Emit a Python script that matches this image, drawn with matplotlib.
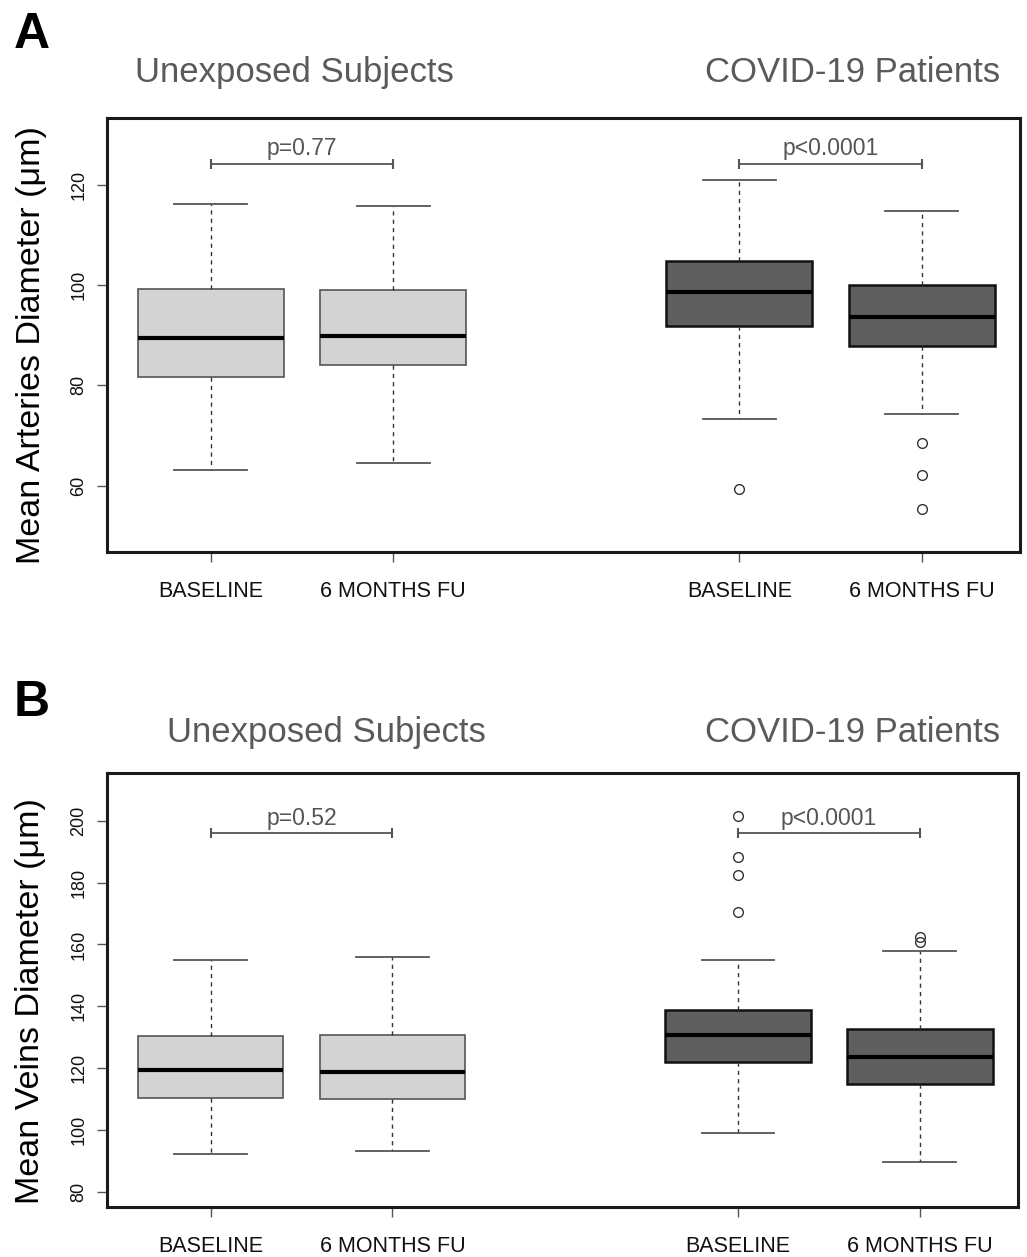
import matplotlib
matplotlib.use("Agg")
import matplotlib.pyplot as plt

plt.rcParams['font.family'] = ['Liberation Sans', 'DejaVu Sans']

# groups / labels
group_titles = ['Unexposed Subjects', 'COVID-19 Patients']
box_labels = ['BASELINE', '6 MONTHS FU', 'BASELINE', '6 MONTHS FU']
box_pos = [1, 2, 3.9, 4.9]

# Panel A - arteries (um): unexposed BL, unexposed FU, covid BL, covid FU
art_whislo = [63.1, 64.6, 73.3, 74.3]
art_q1 = [81.7, 84.1, 91.9, 87.9]
art_med = [89.4, 89.8, 98.7, 93.6]
art_q3 = [99.3, 99.0, 104.8, 100.0]
art_whishi = [116.2, 115.8, 120.9, 114.7]
art_fliers = [[], [], [59.3], [68.5, 62.1, 55.4]]
art_pvals = ['p=0.77', 'p<0.0001']
art_bracket_y = 124.2
art_yticks = [60, 80, 100, 120]

# Panel B - veins (um)
vein_whislo = [92.3, 93.2, 99.0, 89.7]
vein_q1 = [110.3, 110.0, 122.0, 115.0]
vein_med = [119.3, 118.7, 130.7, 123.7]
vein_q3 = [130.3, 130.7, 138.8, 132.7]
vein_whishi = [155.0, 156.0, 155.1, 157.9]
vein_fliers = [[], [], [201.4, 188.4, 182.4, 170.6], [162.3, 160.7]]
vein_pvals = ['p=0.52', 'p<0.0001']
vein_bracket_y = 196.0
vein_yticks = [80, 100, 120, 140, 160, 180, 200]

light = '#d3d3d3'
dark = '#5f5f5f'


def draw_panel(ax, whislo, q1, med, q3, whishi, fliers, pvals, bracket_y, yticks, ylim):
    stats = []
    for i in range(4):
        stats.append(dict(whislo=whislo[i], q1=q1[i], med=med[i], q3=q3[i],
                          whishi=whishi[i], fliers=fliers[i]))
    for i in range(4):
        is_light = i < 2
        ax.bxp([stats[i]], positions=[box_pos[i]], widths=0.8, patch_artist=True,
               showfliers=True,
               boxprops=dict(facecolor=light if is_light else dark,
                             edgecolor='#555555' if is_light else '#111111',
                             linewidth=1.2 if is_light else 1.8),
               medianprops=dict(color='black', linewidth=3),
               whiskerprops=dict(color='#333333', linewidth=1.0, linestyle=(0, (3, 3))),
               capprops=dict(color='#555555', linewidth=1.3),
               capwidths=0.4,
               flierprops=dict(marker='o', markerfacecolor='none', markeredgecolor='#333333',
                               markersize=7, markeredgewidth=1.0))

    # p-value brackets
    for k, (a, b) in enumerate([(0, 1), (2, 3)]):
        xa, xb = box_pos[a], box_pos[b]
        ax.plot([xa, xb], [bracket_y, bracket_y], color='#555555', lw=1.3,
                marker='|', markersize=7, markeredgewidth=1.5)
        ax.annotate(pvals[k], xy=((xa + xb) / 2, bracket_y), xytext=(0, 6),
                    textcoords='offset points', ha='center', va='baseline',
                    fontsize=16.5, color='#555555')

    ax.set_xlim(0.43, 5.44)
    ax.set_ylim(*ylim)
    ax.set_xticks(box_pos)
    ax.set_xticklabels(box_labels, fontsize=15.5, color='#111111')
    ax.set_yticks(yticks)
    ax.set_yticklabels([str(t) for t in yticks], fontsize=13, rotation=90, va='center',
                       color='#111111')
    ax.tick_params(axis='x', length=7, width=1, pad=14, color='#555555')
    ax.tick_params(axis='y', length=7, width=1, pad=7, color='#555555')
    for sp in ax.spines.values():
        sp.set_linewidth(2.2)
        sp.set_color('#1a1a1a')


fig = plt.figure(figsize=(10.27, 12.57), dpi=100)

axA = fig.add_axes([0.1042, 0.5609, 0.9932 - 0.1042, 0.9061 - 0.5609])
draw_panel(axA, art_whislo, art_q1, art_med, art_q3, art_whishi, art_fliers,
           art_pvals, art_bracket_y, art_yticks, (46.8, 133.3))

axB = fig.add_axes([0.1042, 0.0398, 0.9912 - 0.1042, 0.3850 - 0.0398])
draw_panel(axB, vein_whislo, vein_q1, vein_med, vein_q3, vein_whishi, vein_fliers,
           vein_pvals, vein_bracket_y, vein_yticks, (75.1, 215.4))

# group titles
title_col = '#5a5a5a'
fig.text(0.287, 0.9427, group_titles[0], ha='center', va='center', fontsize=25, color=title_col)
fig.text(0.8306, 0.9427, group_titles[1], ha='center', va='center', fontsize=25, color=title_col)
fig.text(0.3174, 0.4169, group_titles[0], ha='center', va='center', fontsize=25, color=title_col)
fig.text(0.8306, 0.4169, group_titles[1], ha='center', va='center', fontsize=25, color=title_col)

# y labels
fig.text(0.031, 0.7255, 'Mean Arteries Diameter (μm)', rotation=90, ha='center', va='center',
         fontsize=24.5, color='black')
fig.text(0.030, 0.2037, 'Mean Veins Diameter (μm)', rotation=90, ha='center', va='center',
         fontsize=24.5, color='black')

# panel letters
fig.text(0.013, 0.972, 'A', fontsize=36, fontweight='bold', ha='left', va='center')
fig.text(0.013, 0.441, 'B', fontsize=36, fontweight='bold', ha='left', va='center')

fig.savefig('out.png', dpi=100)
